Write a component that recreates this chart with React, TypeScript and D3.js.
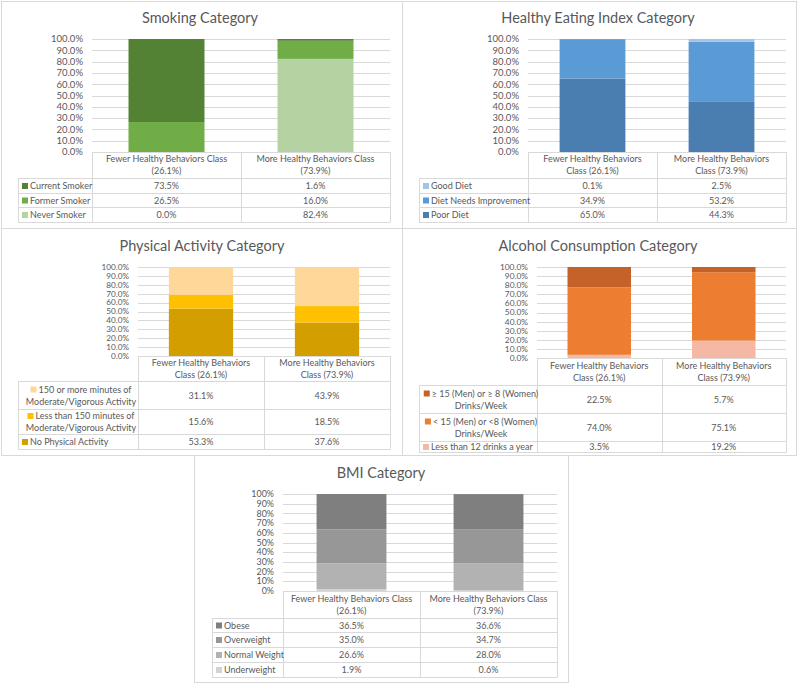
import React, { useEffect, useRef } from "react";
import * as d3 from "d3";

// ---------- data ----------
const classNames = ["Fewer Healthy Behaviors Class (26.1%)", "More Healthy Behaviors Class (73.9%)"];
const yTicks = [0, 10, 20, 30, 40, 50, 60, 70, 80, 90, 100];

const smokingTitle = "Smoking Category";
const smokingSeries = ["Current Smoker", "Former Smoker", "Never Smoker"];
const smokingFewer = [73.5, 26.5, 0.0];
const smokingMore = [1.6, 16.0, 82.4];
const smokingColors = ["#548235", "#70AD47", "#B4D2A2"];

const heiTitle = "Healthy Eating Index Category";
const heiSeries = ["Good Diet", "Diet Needs Improvement", "Poor Diet"];
const heiFewer = [0.1, 34.9, 65.0];
const heiMore = [2.5, 53.2, 44.3];
const heiColors = ["#A2C4E8", "#5B9BD5", "#4A7DB0"];

const paTitle = "Physical Activity Category";
const paSeries = [
  "150 or more minutes of Moderate/Vigorous Activity",
  "Less than 150 minutes of Moderate/Vigorous Activity",
  "No Physical Activity",
];
const paFewer = [31.1, 15.6, 53.3];
const paMore = [43.9, 18.5, 37.6];
const paColors = ["#FFD899", "#FFC000", "#D39E00"];

const alcTitle = "Alcohol Consumption Category";
const alcSeries = [
  "≥ 15 (Men) or ≥ 8 (Women) Drinks/Week",
  "< 15 (Men) or <8 (Women) Drinks/Week",
  "Less than 12 drinks a year",
];
const alcFewer = [22.5, 74.0, 3.5];
const alcMore = [5.7, 75.1, 19.2];
const alcColors = ["#C4622A", "#ED7D31", "#F4B8A4"];

const bmiTitle = "BMI Category";
const bmiSeries = ["Obese", "Overweight", "Normal Weight", "Underweight"];
const bmiFewer = [36.5, 35.0, 26.6, 1.9];
const bmiMore = [36.6, 34.7, 28.0, 0.6];
const bmiColors = ["#7F7F7F", "#979797", "#B2B2B2", "#D3D3D3"];

// ---------- layout ----------
type Panel = {
  title: string;
  series: string[];
  fewer: number[];
  more: number[];
  colors: string[];
  box: [number, number, number, number];
  titleX: number;
  titleY: number;
  plotL: number;
  plotR: number;
  plotT: number;
  plotB: number;
  headerB: number;
  rowB: number[];
  legendL: number;
  decimals: number;
  headerWrap: number;
  legendWrap: number;
};

const panels: Panel[] = [
  {
    title: smokingTitle, series: smokingSeries, fewer: smokingFewer, more: smokingMore, colors: smokingColors,
    box: [1, 1, 401, 227], titleX: 200, titleY: 23,
    plotL: 92, plotR: 390, plotT: 39, plotB: 152, headerB: 178, rowB: [193, 207, 222], legendL: 18,
    decimals: 1, headerWrap: 142, legendWrap: 200,
  },
  {
    title: heiTitle, series: heiSeries, fewer: heiFewer, more: heiMore, colors: heiColors,
    box: [402, 1, 394, 227], titleX: 598, titleY: 23,
    plotL: 528, plotR: 786, plotT: 39, plotB: 152, headerB: 178, rowB: [193, 207, 222], legendL: 419,
    decimals: 1, headerWrap: 118, legendWrap: 200,
  },
  {
    title: paTitle, series: paSeries, fewer: paFewer, more: paMore, colors: paColors,
    box: [1, 228, 401, 227], titleX: 202, titleY: 251,
    plotL: 138, plotR: 390, plotT: 267, plotB: 356, headerB: 381, rowB: [409, 434, 449], legendL: 18,
    decimals: 1, headerWrap: 116, legendWrap: 112,
  },
  {
    title: alcTitle, series: alcSeries, fewer: alcFewer, more: alcMore, colors: alcColors,
    box: [402, 228, 394, 227], titleX: 598, titleY: 251,
    plotL: 537, plotR: 786, plotT: 267, plotB: 358, headerB: 385, rowB: [413, 441, 452], legendL: 419,
    decimals: 1, headerWrap: 116, legendWrap: 112,
  },
  {
    title: bmiTitle, series: bmiSeries, fewer: bmiFewer, more: bmiMore, colors: bmiColors,
    box: [194, 455, 374, 227], titleX: 381, titleY: 478,
    plotL: 283, plotR: 557, plotT: 494, plotB: 591, headerB: 618, rowB: [632, 647, 662, 677], legendL: 212,
    decimals: 0, headerWrap: 150, legendWrap: 200,
  },
];

const FONT = "Lato, 'Liberation Sans', Arial, sans-serif";
const TXT = "#595959";
const GRID = "#D9D9D9";

function drawPanel(root: d3.Selection<SVGSVGElement, unknown, null, undefined>, p: Panel) {
  const g = root.append("g");
  const [bx, by, bw, bh] = p.box;
  g.append("rect").attr("x", bx + 0.5).attr("y", by + 0.5).attr("width", bw).attr("height", bh)
    .attr("fill", "#fff").attr("stroke", GRID);

  g.append("text").attr("x", p.titleX).attr("y", p.titleY).attr("text-anchor", "middle")
    .attr("font-family", FONT).attr("font-size", 14.5).attr("fill", TXT).text(p.title);

  const y = d3.scaleLinear().domain([0, 100]).range([p.plotB, p.plotT]);
  const x = d3.scaleBand<string>().domain(classNames).range([p.plotL, p.plotR]).paddingInner(0.49).paddingOuter(0.245);

  // gridlines
  g.selectAll("line.grid").data(yTicks).join("line")
    .attr("x1", p.plotL).attr("x2", p.plotR)
    .attr("y1", (d) => Math.round(y(d)) + 0.5).attr("y2", (d) => Math.round(y(d)) + 0.5)
    .attr("stroke", GRID).attr("stroke-width", 1);

  const tickSpacing = Math.abs(y(10) - y(0));
  const tickFont = Math.min(9.5, tickSpacing * 0.92);
  const fmtTick = (d: number) => d.toFixed(p.decimals) + "%";
  g.selectAll("text.tick").data(yTicks).join("text")
    .attr("x", p.plotL - 9).attr("y", (d) => y(d)).attr("dy", "0.35em")
    .attr("text-anchor", "end").attr("font-family", FONT).attr("font-size", tickFont).attr("fill", TXT)
    .text(fmtTick);

  // stacked bars
  const keys = p.series.map((_, i) => "s" + i);
  const rows = classNames.map((c, ci) => {
    const r: any = { cls: c };
    p.series.forEach((_, i) => (r["s" + i] = ci === 0 ? p.fewer[i] : p.more[i]));
    return r;
  });
  const stackKeys = [...keys].reverse();
  const stacked = d3.stack<any>().keys(stackKeys)(rows);
  stacked.forEach((layer) => {
    const si = +layer.key.slice(1);
    g.selectAll(null).data(layer).join("rect")
      .attr("x", (d: any) => x(d.data.cls)!)
      .attr("width", x.bandwidth())
      .attr("y", (d: any) => y(d[1]))
      .attr("height", (d: any) => Math.max(0, y(d[0]) - y(d[1])))
      .attr("fill", p.colors[si]);
  });

  // table
  const step = x.step();
  const colEdges = [p.plotL, p.plotL + step, p.plotR];
  const tableB = p.rowB[p.rowB.length - 1];
  colEdges.forEach((cx) => {
    g.append("line").attr("x1", Math.round(cx) + 0.5).attr("x2", Math.round(cx) + 0.5)
      .attr("y1", p.plotB).attr("y2", tableB + 0.5).attr("stroke", GRID);
  });
  g.append("line").attr("x1", p.legendL + 0.5).attr("x2", p.legendL + 0.5)
    .attr("y1", p.headerB).attr("y2", tableB + 0.5).attr("stroke", GRID);
  [p.headerB, ...p.rowB].forEach((ry) => {
    g.append("line").attr("x1", p.legendL).attr("x2", p.plotR)
      .attr("y1", ry + 0.5).attr("y2", ry + 0.5).attr("stroke", GRID);
  });

  const measure = g.append("text").attr("font-family", FONT).attr("font-size", 9).attr("visibility", "hidden");
  const width = (s: string) => {
    measure.text(s);
    return (measure.node() as SVGTextElement).getComputedTextLength();
  };
  const wrap = (s: string, max: number) => {
    const words = s.split(" ");
    const lines: string[] = [];
    let cur = "";
    words.forEach((w) => {
      const t = cur ? cur + " " + w : w;
      if (cur && width(t) > max) {
        lines.push(cur);
        cur = w;
      } else cur = t;
    });
    if (cur) lines.push(cur);
    return lines;
  };
  const LH = 12;

  // header
  classNames.forEach((c, ci) => {
    const lines = wrap(c, p.headerWrap);
    const cx = (colEdges[ci] + colEdges[ci + 1]) / 2;
    const cy = (p.plotB + p.headerB) / 2;
    lines.forEach((ln, li) => {
      g.append("text").attr("x", cx).attr("y", cy + (li - (lines.length - 1) / 2) * LH).attr("dy", "0.35em")
        .attr("text-anchor", "middle").attr("font-family", FONT).attr("font-size", 9).attr("fill", TXT).text(ln);
    });
  });

  // rows
  const rowTops = [p.headerB, ...p.rowB];
  p.series.forEach((s, si) => {
    const top = rowTops[si];
    const bot = rowTops[si + 1];
    const cy = (top + bot) / 2 + 0.5;
    [p.fewer[si], p.more[si]].forEach((v, ci) => {
      const cx = (colEdges[ci] + colEdges[ci + 1]) / 2;
      g.append("text").attr("x", cx).attr("y", cy).attr("dy", "0.35em").attr("text-anchor", "middle")
        .attr("font-family", FONT).attr("font-size", 9).attr("fill", TXT).text(v.toFixed(1) + "%");
    });
    const lines = wrap(s, p.legendWrap);
    if (lines.length === 1) {
      g.append("rect").attr("x", p.legendL + 4).attr("y", cy - 3).attr("width", 6).attr("height", 6).attr("fill", p.colors[si]);
      g.append("text").attr("x", p.legendL + 12).attr("y", cy).attr("dy", "0.35em")
        .attr("font-family", FONT).attr("font-size", 9).attr("fill", TXT).text(s);
    } else {
      const center = (p.legendL + p.plotL) / 2 + 3;
      lines.forEach((ln, li) => {
        const ly = cy + (li - (lines.length - 1) / 2) * LH;
        const w = width(ln) + (li === 0 ? 8 : 0);
        const start = center - w / 2;
        if (li === 0) {
          g.append("rect").attr("x", start).attr("y", ly - 3).attr("width", 6).attr("height", 6).attr("fill", p.colors[si]);
        }
        g.append("text").attr("x", start + (li === 0 ? 8 : 0)).attr("y", ly).attr("dy", "0.35em")
          .attr("font-family", FONT).attr("font-size", 9).attr("fill", TXT).text(ln);
      });
    }
  });
  measure.remove();
}

export default function App() {
  const ref = useRef<SVGSVGElement>(null);
  useEffect(() => {
    if (!ref.current) return;
    const svg = d3.select(ref.current);
    svg.selectAll("*").remove();
    svg.append("rect").attr("width", 798).attr("height", 684).attr("fill", "#fff");
    panels.forEach((p) => drawPanel(svg as any, p));
  }, []);
  return (
    <svg
      ref={ref}
      width={798}
      height={684}
      style={{ position: "absolute", left: 0, top: 0, display: "block" }}
    />
  );
}
